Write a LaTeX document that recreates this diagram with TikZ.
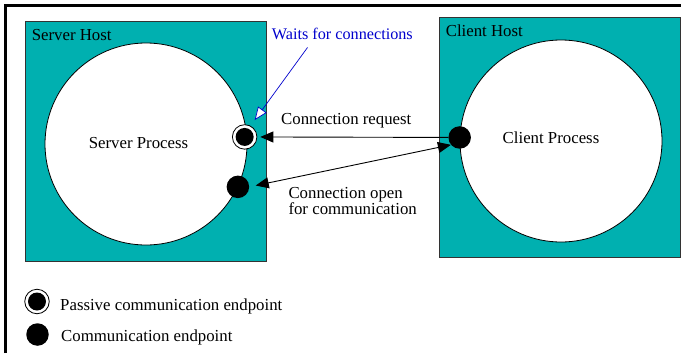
\documentclass[tikz,border=0pt]{standalone}
\usepackage{fontspec}
\setmainfont{Liberation Serif}
\usepackage{tikz}
\usetikzlibrary{arrows.meta, positioning, calc}
\definecolor{hostteal}{RGB}{0,176,176}
\definecolor{waitblue}{RGB}{0,0,204}

\begin{document}
\begin{tikzpicture}[x=1pt, y=-1pt, font=\fontsize{16.8}{20}\selectfont,
  host/.style={draw=black!80, fill=hostteal, line width=0.8pt, minimum width=241pt, minimum height=240pt, inner sep=0pt},
  proc/.style={circle, draw, fill=white, line width=0.8pt, minimum size=202pt, inner sep=0pt},
  endpt/.style={circle, fill=black, minimum size=22.5pt, inner sep=0pt},
  passive/.style={circle, draw, fill=white, line width=0.8pt, minimum size=24.5pt, inner sep=0pt,
    path picture={\fill[black] (path picture bounding box.center) circle (9pt);}},
  tip/.tip={Triangle[length=13pt,width=11pt]},
  msg/.style={line width=0.9pt, -tip},
  txt/.style={anchor=base west, inner sep=0pt}]
\useasboundingbox (0,0) rectangle (687,353);
\draw [line width=3pt] (5.5,353) -- (5.5,6) -- (681,6);

\node[host] (srvhost) at (145.5,141.5) {};
\node[txt] at ($(srvhost.north west)+(7,19)$) {Server Host};
\node[proc] (srvproc) at (146,144) {};
\node[anchor=base, inner sep=0pt] at (138.5,148) {Server Process};

\node[host] (clihost) at (559.5,137.5) {};
\node[txt] at ($(clihost.north west)+(7,19)$) {Client Host};
\node[proc] (cliproc) at (561,141) {};
\node[anchor=base, inner sep=0pt] at (551,143.3) {Client Process};

\node[passive] (srvlisten) at ([xshift=-2.5pt]srvproc.4) {};
\node[endpt] (srvconn) at (srvproc.-25) {};
\node[endpt] (cliconn) at (cliproc.178) {};

\node[txt, text=waitblue, font=\fontsize{16.2}{20}\selectfont] (waits) at (271.7,40) {Waits for connections};
\coordinate (waitsfoot) at (307.5,47.5);
\draw [waitblue, line width=0.7pt, -{Triangle[length=13pt,width=10.5pt,fill=white]}, shorten >=7pt] (waitsfoot) -- (srvlisten.62);

\node[txt] (reqlabel) at (281,124.3) {Connection request};
\draw [msg, shorten >=3pt] (cliconn) -- (srvlisten);

\node[txt] (openlabel) at (288.3,198.3) {Connection open};
\node[txt] (forlabel) at ([yshift=-16pt]openlabel.base west) {for communication};
\draw [line width=0.9pt, tip-tip, shorten <=6.5pt] (srvconn.east) -- (cliconn.-140);

\node[passive] (keypassive) at (37,301.5) {};
\node[txt] at (60,310.5) {Passive communication endpoint};
\node[endpt] (keyconn) at (37.5,334.5) {};
\node[txt] at (61,341.7) {Communication endpoint};
\end{tikzpicture}
\end{document}
